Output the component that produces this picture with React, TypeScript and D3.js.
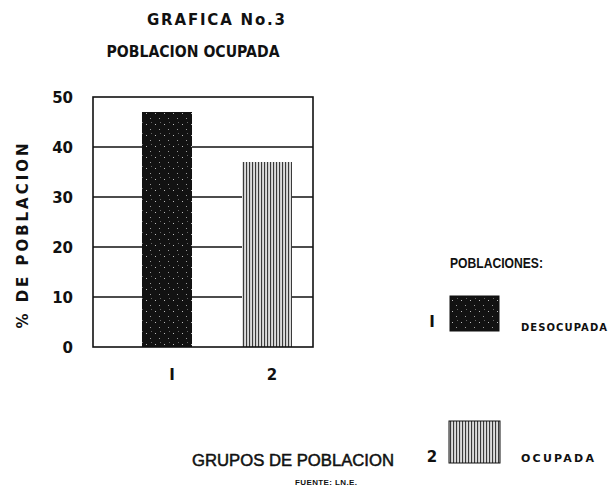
import React from "react";
import * as d3 from "d3";

// chart values
const groups = ["1", "2"];
const percentages = [47, 37];
const groupNames = ["DESOCUPADA", "OCUPADA"];
const legendKeys = ["I", "2"];
const yTicks = [0, 10, 20, 30, 40, 50];

const W = 610;
const H = 491;
const plot = { left: 93, right: 313, top: 97, bottom: 347 };
const font = "'DejaVu Sans', 'Liberation Sans', sans-serif";
const narrowFont = "'Liberation Sans', Arial, sans-serif";
const fills = ["url(#darkTexture)", "url(#stripeTexture)"];

function App() {
  const x = d3
    .scaleBand<string>()
    .domain(groups)
    .range([plot.left, plot.right])
    .paddingInner(0.5)
    .paddingOuter(0.35)
    .align(0.7);

  const y = d3.scaleLinear().domain([0, 50]).range([plot.bottom, plot.top]);

  // legend boxes (the two swatches on the right)
  const legendRows = [
    { box: [450, 296, 49, 35], keyY: 327, labelY: 331, labelW: 86, size: 10 },
    { box: [449, 421, 51, 42], keyY: 462, labelY: 462, labelW: 73, size: 11 },
  ];

  return (
    <svg width={W} height={H} style={{ position: "absolute", left: 0, top: 0, background: "#fff" }}>
      <defs>
        <pattern id="darkTexture" width="9" height="11" patternUnits="userSpaceOnUse">
          <rect width="9" height="11" fill="#121212" />
          <rect x="2" y="3" width="1" height="1" fill="#bbb" />
          <rect x="6" y="8" width="1" height="1" fill="#999" />
          <rect x="7" y="1" width="1" height="1" fill="#666" />
        </pattern>
        <pattern id="stripeTexture" width="3" height="6" patternUnits="userSpaceOnUse">
          <rect width="3" height="6" fill="#dcdcdc" />
          <rect x="0" width="1.1" height="6" fill="#3a3a3a" />
        </pattern>
      </defs>

      <g fontFamily={font} fontWeight="bold" fill="#111">
        <text x={216} y={25} fontSize={15} textAnchor="middle" textLength={138} lengthAdjust="spacing">
          GRAFICA No.3
        </text>
        <text x={193} y={57} fontSize={16} textAnchor="middle" textLength={173} lengthAdjust="spacingAndGlyphs">
          POBLACION OCUPADA
        </text>
      </g>

      {/* grid lines behind the bars */}
      {yTicks
        .filter((t) => t > 0 && t < 50)
        .map((t) => (
          <line key={t} x1={plot.left} x2={plot.right} y1={y(t)} y2={y(t)} stroke="#111" strokeWidth={1.6} />
        ))}

      {groups.map((g, i) => (
        <rect
          key={g}
          x={x(g)}
          y={y(percentages[i])}
          width={x.bandwidth()}
          height={y(0) - y(percentages[i])}
          fill={fills[i]}
        />
      ))}

      <rect
        x={plot.left}
        y={plot.top}
        width={plot.right - plot.left}
        height={plot.bottom - plot.top}
        fill="none"
        stroke="#111"
        strokeWidth={1.6}
      />

      <g fontFamily={font} fontWeight="bold" fill="#111" fontSize={15}>
        {yTicks.map((t) => (
          <text key={t} x={73} y={y(t) + 6} textAnchor="end">
            {t}
          </text>
        ))}
        {groups.map((g) => (
          <text key={g} x={(x(g) as number) + x.bandwidth() / 2 + 5} y={380} textAnchor="middle">
            {g === "1" ? "I" : g}
          </text>
        ))}
        <text
          transform="translate(28,236) rotate(-90)"
          textAnchor="middle"
          fontSize={15}
          textLength={185}
          lengthAdjust="spacing"
        >
          % DE POBLACION
        </text>
      </g>

      {/* legend */}
      <g fontFamily={narrowFont} fontWeight="bold" fill="#111">
        <text x={450} y={268} fontSize={15} textLength={93} lengthAdjust="spacingAndGlyphs">
          POBLACIONES:
        </text>
        {legendRows.map((r, i) => (
          <g key={i}>
            <text x={432} y={r.keyY} fontSize={15} fontFamily={font} textAnchor="middle">
              {legendKeys[i]}
            </text>
            <rect x={r.box[0]} y={r.box[1]} width={r.box[2]} height={r.box[3]} fill={fills[i]} stroke="#111" strokeWidth={1} />
            <text x={521} y={r.labelY} fontSize={r.size} fontFamily={font} textLength={r.labelW} lengthAdjust="spacing">
              {groupNames[i]}
            </text>
          </g>
        ))}
        <text x={192} y={466} fontSize={16} fontWeight="normal" textLength={202} lengthAdjust="spacingAndGlyphs" stroke="#111" strokeWidth={0.5}>
          GRUPOS DE POBLACION
        </text>
        <text x={295} y={485} fontSize={8} textLength={62} lengthAdjust="spacing">
          FUENTE: LN.E.
        </text>
      </g>
    </svg>
  );
}

export default App;
